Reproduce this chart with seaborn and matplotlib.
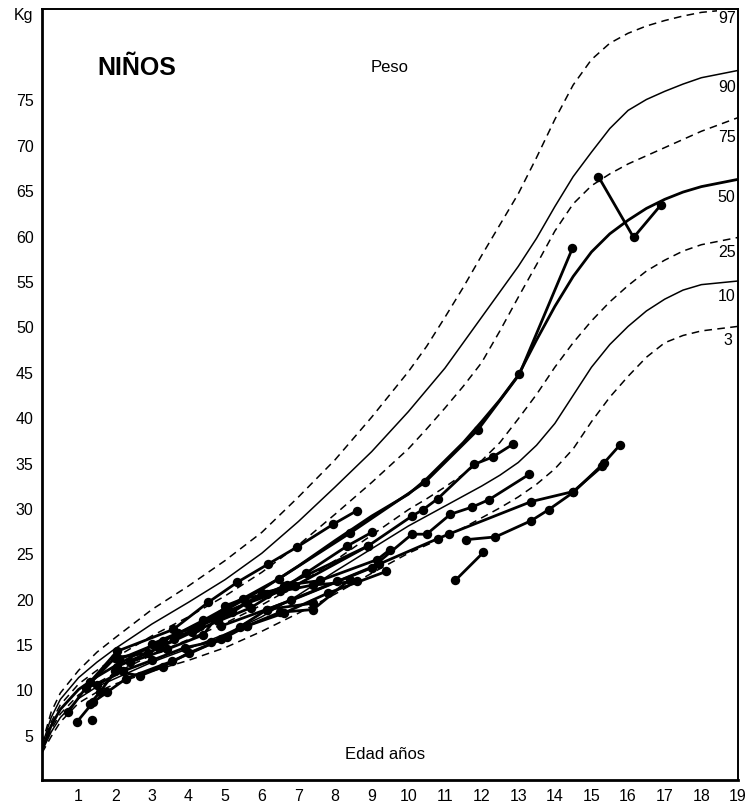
import numpy as np
import pandas as pd
import matplotlib
matplotlib.use('Agg')
import matplotlib.pyplot as plt
import seaborn as sns

# --- DATA ---
# percentile curves (weight, kg)
AGES = [0, 0.25, 0.5, 1, 1.5, 2, 3, 4, 5, 6, 7, 8, 9, 10, 10.5, 11, 11.5, 12, 12.5, 13,
        13.5, 14, 14.5, 15, 15.5, 16, 16.5, 17, 17.5, 18, 19]
P97 = [4.0, 7.5, 9.6, 12.1, 14.1, 15.7, 18.8, 21.4, 24.2, 27.3, 31.2, 35.3, 40.0, 45.0, 47.8, 51.0,
       54.3, 57.8, 61.2, 64.6, 68.6, 72.8, 76.6, 79.4, 81.2, 82.3, 83.1, 83.7, 84.2, 84.6, 85.0]
P90 = [3.8, 6.9, 8.9, 11.3, 13.0, 14.5, 17.2, 19.6, 22.1, 25.0, 28.5, 32.3, 36.2, 40.6, 43.0, 45.4,
       48.2, 51.0, 53.8, 56.6, 59.7, 63.2, 66.5, 69.2, 71.8, 73.8, 75.0, 75.9, 76.7, 77.4, 78.2]
P75 = [3.6, 6.4, 8.3, 10.6, 12.1, 13.5, 15.9, 18.0, 20.3, 22.9, 25.9, 29.3, 32.8, 36.5, 38.7, 41.0,
       43.4, 46.0, 49.5, 53.2, 56.8, 60.5, 63.5, 65.5, 66.8, 67.9, 68.8, 69.7, 70.6, 71.5, 73.0]
P50 = [3.4, 6.0, 7.8, 10.0, 11.4, 12.6, 14.8, 16.7, 18.7, 21.0, 23.6, 26.4, 29.1, 31.5, 33.2, 35.2,
       37.2, 39.5, 41.9, 44.6, 48.5, 52.2, 55.5, 58.2, 60.2, 61.7, 63.0, 64.0, 64.8, 65.4, 66.2]
P25 = [3.3, 5.6, 7.3, 9.4, 10.7, 11.8, 13.8, 15.5, 17.3, 19.3, 21.6, 24.2, 27.0, 29.8, 31.0, 32.3,
       33.7, 35.2, 37.2, 39.8, 42.5, 45.5, 48.2, 50.6, 52.7, 54.5, 56.1, 57.3, 58.3, 59.0, 59.8]
P10 = [3.2, 5.3, 6.9, 9.0, 10.3, 11.2, 13.0, 14.5, 16.1, 18.0, 20.4, 23.0, 25.5, 28.0, 29.1, 30.2,
       31.3, 32.4, 33.6, 35.0, 36.9, 39.3, 42.4, 45.5, 48.0, 50.0, 51.7, 53.0, 54.0, 54.6, 55.0]
P3 = [3.0, 4.8, 6.4, 8.5, 9.7, 10.6, 12.0, 13.2, 14.6, 16.4, 18.4, 20.5, 22.8, 25.0, 25.9, 26.8,
      27.8, 28.9, 30.0, 31.2, 32.6, 34.3, 36.5, 39.5, 42.2, 44.5, 46.6, 48.2, 49.0, 49.5, 50.0]
PCT_NAMES = ['97', '90', '75', '50', '25', '10', '3']
PCT_LABEL_Y = [84.0, 76.4, 70.9, 64.3, 58.3, 53.4, 48.6]

# individual children: ages and weights of each visit
TRAJ_AGES = [
    [0.71, 1.31, 2.05, 3.58, 4.54, 5.33, 6.17, 6.97, 7.95, 8.6],
    [2.1, 3.3, 4.4, 6.47, 8.4, 10.45, 11.9, 13.03, 14.48],
    [5.05, 6.6, 8.9, 10.1, 10.4, 10.8, 11.8, 12.3, 12.85],
    [4.9, 6.8, 9.0, 10.1, 10.5, 11.15, 11.75, 12.2, 13.3],
    [11.58, 12.38, 13.36, 13.83, 14.5, 15.33, 15.77],
    [6.15, 8.06, 9.2, 10.8, 11.1, 13.36, 14.5, 15.3],
    [11.28, 12.05],
    [15.19, 16.15, 16.9],
    [0.95, 1.4, 1.78, 2.3, 3.55, 5.05, 5.4, 6.15, 7.4],
    [1.36],
    [1.31, 1.58, 2.0, 2.68, 3.3, 4.0, 4.9, 5.6, 6.5, 7.4, 8.4],
    [1.2, 2.0, 2.9, 3.6, 4.2, 4.9, 5.6, 6.5, 7.4, 8.6],
    [1.5, 2.2, 3.0, 3.9, 4.6, 5.6, 6.6, 7.8, 9.4],
    [2.05, 3.2, 4.1, 4.8, 5.7, 6.7, 7.6, 9.15, 9.5],
    [3.0, 3.7, 4.3, 5.2, 6.0, 6.6, 7.2, 8.33, 9.0],
    [2.4, 3.4, 4.4, 5.0, 5.5, 6.15, 6.9, 8.9],
]
TRAJ_WEIGHTS = [
    [7.5, 10.8, 14.2, 16.6, 19.6, 21.8, 23.8, 25.7, 28.2, 29.7],
    [13.3, 15.3, 17.6, 22.2, 27.2, 32.8, 38.6, 44.7, 58.6],
    [18.5, 21.4, 25.8, 29.1, 29.8, 31.0, 34.8, 35.6, 37.0],
    [17.0, 19.8, 23.4, 27.1, 27.1, 29.3, 30.1, 30.9, 33.7],
    [26.5, 26.8, 28.6, 29.8, 31.7, 34.9, 36.9],
    [18.8, 21.9, 23.8, 26.6, 27.1, 30.7, 31.8, 34.6],
    [22.0, 25.1],
    [66.5, 59.8, 63.4],
    [6.4, 8.6, 9.7, 11.2, 13.1, 15.8, 16.9, 18.8, 19.5],
    [6.6],
    [8.4, 9.7, 12.0, 11.5, 12.5, 14.0, 15.5, 17.0, 18.5, 18.8, 22.1],
    [10.2, 13.5, 14.0, 15.5, 16.8, 18.3, 19.5, 20.8, 21.5, 21.9],
    [10.5, 12.0, 13.2, 14.6, 15.2, 17.0, 18.4, 20.6, 23.0],
    [12.5, 14.6, 16.3, 17.5, 19.0, 21.5, 22.0, 24.3, 25.4],
    [15.0, 16.2, 17.0, 18.5, 20.6, 21.2, 22.8, 25.8, 27.3],
    [13.0, 14.4, 16.0, 19.2, 20.0, 20.5, 21.4, 25.8],
]

X_TICKS = list(range(1, 20))
Y_TICKS = [5, 10, 15, 20, 25, 30, 35, 40, 45, 50, 55, 60, 65, 70, 75]

# --- BUILD FRAMES ---
curves = pd.DataFrame({'age': AGES * 7,
                       'peso': P97 + P90 + P75 + P50 + P25 + P10 + P3,
                       'pct': np.repeat(PCT_NAMES, len(AGES))})
rows = []
for i, (a, w) in enumerate(zip(TRAJ_AGES, TRAJ_WEIGHTS)):
    for aa, ww in zip(a, w):
        rows.append((i, aa, ww))
kids = pd.DataFrame(rows, columns=['nino', 'age', 'peso'])

# --- PLOT ---
sns.set_theme(style='white')
plt.rcParams['font.family'] = ['Liberation Sans', 'DejaVu Sans']
plt.rcParams['text.color'] = 'black'

fig = plt.figure(figsize=(7.5, 8.12), dpi=100)
ax = fig.add_axes([0.056, 0.038, 0.928, 0.950])

dash = (0, (5, 3.5))
styles = {'97': (dash, 1.1), '90': ('-', 1.1), '75': (dash, 1.1), '50': ('-', 2.0),
          '25': (dash, 1.1), '10': ('-', 1.1), '3': (dash, 1.1)}
for name in PCT_NAMES:
    ls, lw = styles[name]
    sns.lineplot(data=curves[curves.pct == name], x='age', y='peso', color='black',
                 linestyle=ls, linewidth=lw, ax=ax, legend=False)

sns.lineplot(data=kids, x='age', y='peso', units='nino', estimator=None, sort=False,
             color='black', linewidth=2.0, ax=ax, legend=False)
sns.scatterplot(data=kids, x='age', y='peso', color='black', s=46, edgecolor='black',
                linewidth=0, ax=ax, legend=False, zorder=5)

for name, yy in zip(PCT_NAMES, PCT_LABEL_Y):
    ax.text(18.45 if name != '3' else 18.6, yy, name, fontsize=11.5, ha='left', va='center',
            color='black', bbox=dict(facecolor='white', edgecolor='none', pad=0.5))

ax.text(2.6, 78.6, 'NIÑOS', fontsize=18, fontweight='bold', ha='center', va='center', color='black')
ax.text(9.48, 78.6, 'Peso', fontsize=12, ha='center', va='center', color='black')
ax.text(9.37, 2.9, 'Edad años', fontsize=12, ha='center', va='center', color='black')

ax.set_xlim(0, 19)
ax.set_ylim(0, 85)
ax.set_xticks(X_TICKS)
ax.set_xticklabels([str(t) for t in X_TICKS])
ax.set_yticks(Y_TICKS + [84.5])
ax.set_yticklabels([str(t) for t in Y_TICKS] + ['Kg'])
ax.tick_params(length=0, labelsize=11.5, pad=6, colors='black')
ax.set_xlabel('')
ax.set_ylabel('')
for side in ['left', 'bottom']:
    ax.spines[side].set_linewidth(2.0)
for side in ['top', 'right']:
    ax.spines[side].set_linewidth(1.4)
for sp in ax.spines.values():
    sp.set_color('black')

fig.savefig('out.png', dpi=100)
